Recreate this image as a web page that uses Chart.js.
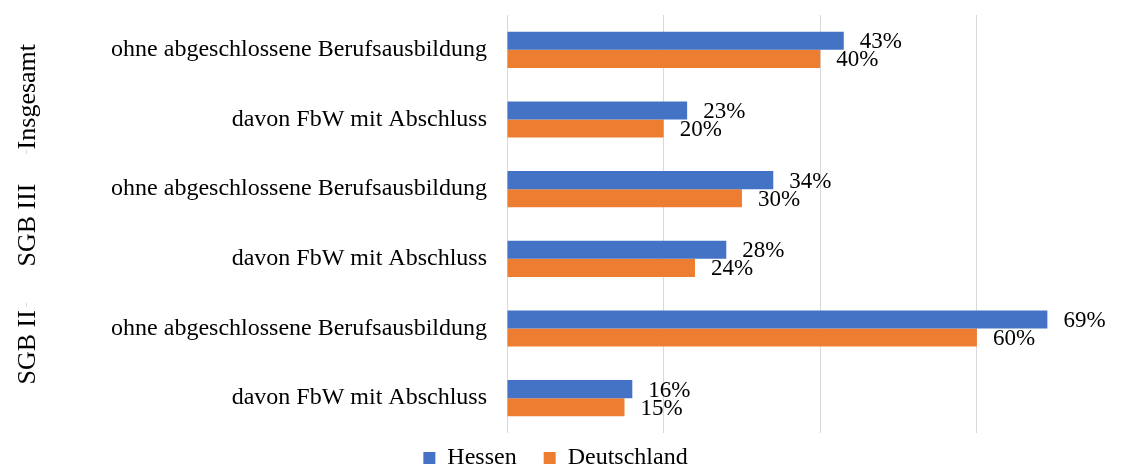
<!DOCTYPE html>
<html><head><meta charset="utf-8">
<script src="https://cdn.jsdelivr.net/npm/chart.js@4.4.1/dist/chart.umd.min.js"></script>
<style>html,body{margin:0;padding:0;background:#fff;} #wrap{width:1121px;height:466px;position:relative}</style>
</head><body><div id="wrap"><canvas id="c"></canvas></div>
<script>
const categories = [
  "ohne abgeschlossene Berufsausbildung", "davon FbW mit Abschluss",
  "ohne abgeschlossene Berufsausbildung", "davon FbW mit Abschluss",
  "ohne abgeschlossene Berufsausbildung", "davon FbW mit Abschluss"
];
const groups = ["Insgesamt", "SGB III", "SGB II"];
const groupIndices = [[0, 1], [2, 3], [4, 5]];
const seriesNames = ["Hessen", "Deutschland"];
const hessen = [43, 23, 34, 28, 69, 16];
const deutschland = [40, 20, 30, 24, 60, 15];
const gridTicks = [0, 20, 40, 60];

const FONT = "'Liberation Serif', 'Times New Roman', serif";

const extras = {
  id: 'extras',
  afterLayout(chart) {
    const lg = chart.legend;
    if (lg) { lg.top = 419; lg.left -= 5; lg.right -= 5; }
  },
  afterDatasetsDraw(chart) {
    const ctx = chart.ctx;
    ctx.save();
    ctx.font = "23px " + FONT;
    ctx.fillStyle = "#000";
    ctx.textAlign = "left";
    ctx.textBaseline = "middle";
    chart.data.datasets.forEach((ds, di) => {
      const meta = chart.getDatasetMeta(di);
      meta.data.forEach((el, i) => {
        ctx.fillText(ds.data[i] + "%", el.x + 16, el.y + 1.5);
      });
    });
    ctx.restore();
  },
  afterDraw(chart) {
    const ctx = chart.ctx;
    const y = chart.scales.y;
    const offs = [12, 1, -16];
    ctx.save();
    ctx.font = "26px " + FONT;
    ctx.fillStyle = "#000";
    ctx.textAlign = "center";
    ctx.textBaseline = "middle";
    groups.forEach((g, k) => {
      const idx = groupIndices[k];
      const cy = (y.getPixelForValue(idx[0]) + y.getPixelForValue(idx[idx.length - 1])) / 2 + offs[k];
      ctx.save();
      ctx.translate(28, cy);
      ctx.rotate(-Math.PI / 2);
      ctx.fillText(g, 0, 0);
      ctx.restore();
    });
    ctx.strokeStyle = "#d9d9d9";
    ctx.lineWidth = 1;
    [150, 303].forEach(py => {
      ctx.beginPath(); ctx.moveTo(26.5, py); ctx.lineTo(26.5, py + 4); ctx.stroke();
    });
    ctx.restore();
  }
};

new Chart(document.getElementById('c'), {
  type: 'bar',
  data: {
    labels: categories,
    datasets: [
      { label: seriesNames[0], data: hessen, backgroundColor: '#4472C4', borderWidth: 0 },
      { label: seriesNames[1], data: deutschland, backgroundColor: '#ED7D31', borderWidth: 0 }
    ]
  },
  options: {
    indexAxis: 'y',
    responsive: true,
    maintainAspectRatio: false,
    animation: false,
    categoryPercentage: 0.52,
    barPercentage: 1.0,
    layout: { padding: { top: 15, left: 0, right: 0, bottom: 0 } },
    scales: {
      x: {
        min: 0, max: 78.4,
        afterBuildTicks: (axis) => { axis.ticks = gridTicks.map(v => ({ value: v })); },
        ticks: { display: false },
        grid: { color: '#d9d9d9', lineWidth: 1, drawTicks: false },
        border: { display: false },
        afterFit: (scale) => { scale.paddingLeft = 0; scale.paddingRight = 0; }
      },
      y: {
        ticks: { font: { family: FONT, size: 24 }, color: '#000', padding: 20 },
        grid: { display: false, drawTicks: false },
        border: { display: false },
        afterFit: (scale) => { scale.width = 507; scale.paddingTop = 0; scale.paddingBottom = 0; }
      }
    },
    plugins: {
      legend: {
        position: 'bottom',
        maxHeight: 33,
        labels: {
          font: { family: FONT, size: 24 }, color: '#000',
          boxWidth: 12, boxHeight: 12, padding: 27
        }
      },
      tooltip: { enabled: false }
    }
  },
  plugins: [extras]
});
</script>
</body></html>
